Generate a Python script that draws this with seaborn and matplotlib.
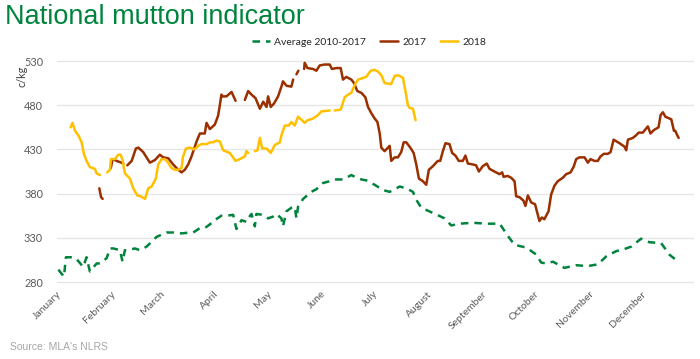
import numpy as np
import pandas as pd
import matplotlib
matplotlib.use('Agg')
import matplotlib.pyplot as plt
import matplotlib.dates as mdates
import seaborn as sns

nan = np.nan

# day offsets from 1 January, values in c/kg (NaN = break in the line)
avg_days = [0.8, 4.0, 5.1, 9.3, 11.2, 15.0, 16.9, 18.8, 22.7, 24.6, 28.4, 30.3, 32.2, 36.0, 37.5,
            38.8, 40.7, 44.5, 47.4, 51.2, 56.9, 62.6, 66.4, 71.2, 75.9, 77.9, 81.7, 84.5, 89.3,
            90.2, 94.0, 97.0, 100.7, 102.6, 105.5, 108.3, 109.3, 111.2, 113.1, 114.0, 117.8,
            120.7, 123.5, 125.4, 128.3, 129.2, 131.2, 134.0, 135.9, 136.9, 137.8, 140.7, 145.4,
            148.3, 152.1, 155.9, 158.8, 163.5, 168.3, 170.2, 174.0, 176.8, 181.6, 186.4, 190.2,
            195.9, 199.7, 203.5, 205.4, 208.3, 215.0, 221.6, 225.4, 230.2, 237.8, 245.4, 253.1,
            257.8, 261.6, 268.3, 274.0, 276.8, 279.6, 283.5, 290.1, 296.8, 303.4, 309.2, 314.0,
            319.7, 322.6, 328.2, 333.9, 338.7, 345.4, 350.1, 354.5]
avg_vals = [294, 286, 308, 308, 306, 297, 308, 292, 301, 301, 307, 318, 318, 316, 303,
            316, 316, 318, 316, 320, 331, 336, 336, 335, 336, 336, 341, 341, 348,
            350, 355, 355, 356, 340, 350, 348, 352, 357, 343, 357, 356,
            352, 354, 357, 352, 343, 360, 364, 365, 352, 365, 374, 382,
            385, 392, 394, 396, 396, 401, 399, 396, 395, 390, 384, 382,
            388, 386, 382, 373, 364, 358, 352, 344, 346, 347, 346, 346,
            332, 322, 319, 311, 302, 301, 303, 296, 299, 298, 300, 309,
            315, 316, 320, 329, 325, 324, 311, 304]

y2017_days = [24.2, 25.2, 26.1, 28.0,
              30.8, 31.8, 34.1, 36.9, 37.9, 39.0,
              40.2, 42.7, 45.1, 46.5, 49.3, 53.1, 56.0, 58.8, 60.7, 63.6, 66.4, 69.3, 71.2, 73.1,
              75.0, 76.9, 79.8, 81.7, 84.5, 85.5, 87.4, 90.2, 92.1, 93.1, 94.0, 94.4, 96.9, 99.8,
              102.1, 104.0,
              107.4, 109.3, 111.2, 113.5, 116.0, 117.9, 119.8, 120.7, 122.2, 124.1, 126.4, 128.3,
              129.2, 131.2, 134.0, 135.0, 136.0,
              136.9, 138.0, 139.5,
              141.3, 141.6, 143.2, 146.4, 148.3, 150.2, 153.0, 155.9, 157.2, 159.7, 162.2, 163.5,
              165.4, 168.3, 169.8, 171.7, 174.0, 176.3, 177.8, 179.7, 181.6, 183.2, 184.5, 185.4,
              187.3, 190.2, 191.1, 193.0, 194.9, 196.8, 198.2, 199.7, 202.0, 203.9, 205.4, 206.9,
              209.2, 211.1, 212.6, 214.9, 217.7, 219.1, 220.6, 222.1, 224.4, 225.9, 227.8, 229.7,
              232.0, 233.5, 234.9, 237.7, 239.6, 241.2, 243.4, 245.7, 247.3, 250.1, 253.0, 254.5,
              255.3, 257.7, 259.6, 261.6, 262.5, 264.4, 266.7, 267.8, 269.2, 271.1, 273.3, 274.9,
              275.8, 277.2, 278.6, 281.0, 282.5, 284.4, 286.3, 289.2, 291.1, 293.6, 295.5, 296.8,
              298.7, 301.6, 303.5, 305.0, 307.3, 309.2, 310.7, 312.6, 314.9, 316.5, 318.2, 321.6,
              324.5, 325.4, 326.4, 329.2, 331.1, 332.5, 334.9, 337.8, 339.3, 341.3, 343.9, 345.1,
              346.4, 347.8, 351.2, 352.7, 353.5, 354.6, 355.4]
y2017_vals = [386, 376, 374, nan,
              409, 419, 417, 415, 414, nan,
              412, 417, 431, 432, 427, 415, 418, 424, 421, 420, 413, 407, 404, 407,
              413, 422, 439, 448, 448, 460, 453, 458, 468, 480, 492, 490, 490, 495,
              485, nan,
              486, 496, 492, 488, 476, 484, 478, 490, 478, 482, 490, 501,
              507, 502, 501, 509, nan,
              515, 519, nan,
              521, 528, 522, 521, 519, 525, 526, 526, 521, 522, 522, 509,
              512, 509, 505, 496, 494, 489, 478, 471, 465, 461, 448, 432,
              428, 434, 417, 421, 421, 427, 438, 438, 432, 426, 413, 397,
              394, 390, 407, 411, 417, 417, 428, 437, 436, 426, 423, 417,
              417, 423, 414, 413, 412, 405, 411, 414, 408, 405, 402, 404,
              399, 400, 398, 394, 377, 376, 372, 366, 378, 370, 368, 356,
              349, 353, 351, 360, 379, 389, 394, 398, 402, 404, 411, 419,
              421, 421, 415, 419, 417, 417, 422, 425, 425, 427, 441, 437,
              433, 429, 441, 443, 446, 449, 449, 456, 448, 452, 455, 469,
              472, 467, 464, 451, 451, 446, 443]

y2018_days = [7.8, 8.9, 10.3, 12.2, 14.1, 15.4, 16.9, 18.8, 21.7, 22.6, 24.6, 26.5,
              28.7, 30.3, 30.8, 33.1, 35.0, 36.4, 37.5, 38.8, 41.7, 43.6, 45.9, 47.8, 50.3, 52.2,
              54.1, 56.5, 57.9, 59.8, 61.7, 63.6, 65.5, 67.4, 69.3, 71.2, 72.1, 73.7, 75.9, 78.2,
              79.8, 80.7, 82.6, 85.5, 87.4, 89.3, 91.1, 93.1, 95.0, 98.8, 102.1, 104.5, 107.4,
              108.3, 109.3, 111.0,
              113.1, 114.6, 116.0, 117.3, 119.8, 122.2, 124.5, 127.4, 128.3, 130.3, 132.5, 134.0,
              135.9, 137.8, 140.1, 141.6, 143.2, 146.4, 149.3, 151.1, 155.9, 157.0,
              158.8, 162.2, 164.5, 166.4, 168.3, 170.2, 172.1, 176.8, 179.3, 181.6, 183.5, 185.4,
              187.3, 191.1, 193.0, 194.9, 197.8, 199.3, 200.6, 201.6, 203.5, 205.0]
y2018_vals = [455, 460, 451, 446, 438, 425, 417, 410, 408, 403, 401, nan,
              404, 407, 419, 419, 424, 424, 418, 403, 397, 386, 378, 377, 374, 386,
              388, 397, 413, 419, 419, 415, 409, 407, 407, 409, 422, 431, 432, 430,
              432, 434, 436, 436, 438, 438, 440, 439, 429, 426, 417, 419, 422,
              428, 426, nan,
              428, 429, 443, 431, 431, 426, 435, 438, 446, 457, 457, 461,
              457, 467, 463, 460, 463, 465, 469, 473, 474, nan,
              474, 475, 489, 492, 494, 503, 509, 512, 519, 520, 518, 514,
              505, 504, 513, 514, 511, 495, 480, 477, 476, 463]

series_names = ['Average 2010-2017', '2017', '2018']
series_colors = ['#00843D', '#9A3000', '#FFC000']


def to_frame(name, days, vals):
    df = pd.DataFrame({'day': days, 'value': vals})
    df['seg'] = df['value'].isna().cumsum()
    df = df.dropna()
    df['date'] = pd.Timestamp('2018-01-01') + pd.to_timedelta(df['day'], unit='D')
    df['series'] = name
    return df


data = pd.concat([
    to_frame(series_names[0], avg_days, avg_vals),
    to_frame(series_names[1], y2017_days, y2017_vals),
    to_frame(series_names[2], y2018_days, y2018_vals),
], ignore_index=True)

sns.set_style('white')
plt.rcParams['font.family'] = ['Lato', 'DejaVu Sans']

fig = plt.figure(figsize=(7, 3.59), dpi=100)
ax = fig.add_axes([0.0814, 0.2095, 0.9096, 0.6255])

sns.lineplot(data=data, x='date', y='value', hue='series', style='series',
             units='seg', estimator=None, hue_order=series_names, style_order=series_names,
             palette=dict(zip(series_names, series_colors)),
             dashes={series_names[0]: (3, 2.4), series_names[1]: '', series_names[2]: ''},
             linewidth=1.8, ax=ax, legend=True)

ax.set_ylim(278, 532)
ax.set_yticks([280, 330, 380, 430, 480, 530])
ax.set_xlim(pd.Timestamp('2018-01-01'), pd.Timestamp('2018-12-31'))
ax.xaxis.set_major_locator(mdates.MonthLocator())
ax.xaxis.set_major_formatter(mdates.DateFormatter('%B'))
ax.yaxis.grid(True, color='#E6E6E6', linewidth=1)
ax.set_axisbelow(True)
for s in ax.spines.values():
    s.set_visible(False)
ax.tick_params(axis='both', length=0, colors='#595959')
ax.tick_params(axis='y', labelsize=7.8, pad=10)
ax.tick_params(axis='x', labelsize=7.5, pad=4)
for lab in ax.get_xticklabels():
    lab.set_rotation(45)
    lab.set_ha('right')
    lab.set_rotation_mode('anchor')
ax.set_xlabel('')
ax.set_ylabel('')

handles, labels = ax.get_legend_handles_labels()
ax.get_legend().remove()
fig.legend(handles, labels, loc='center', bbox_to_anchor=(369 / 700, 1 - 42 / 359),
           ncol=3, frameon=False, fontsize=7.5, handlelength=1.7, columnspacing=1.4,
           handletextpad=0.4)

fig.text(5 / 700, 1 - 24 / 359, 'National mutton indicator', fontsize=19.5,
         color='#00843D', family=['Liberation Sans', 'DejaVu Sans'], va='baseline')
fig.text(22 / 700, 1 - 76 / 359, 'c/kg', rotation=90, fontsize=7.8, color='#404040',
         ha='center', va='center')
fig.text(10 / 700, 1 - 347 / 359, "Source: MLA's NLRS", fontsize=7.5, color='#A6A6A6',
         family=['Liberation Sans Narrow', 'Liberation Sans', 'DejaVu Sans'], va='center')

fig.savefig('out.png', dpi=100)
